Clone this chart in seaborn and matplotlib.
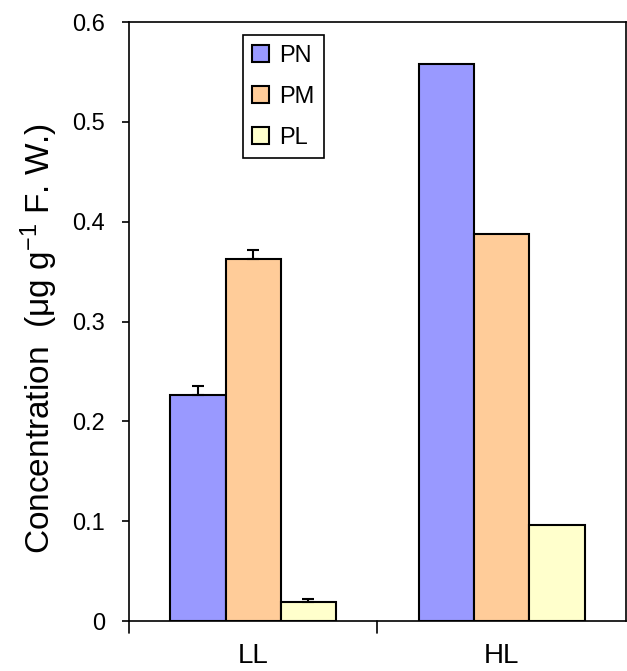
import pandas as pd
import matplotlib.pyplot as plt
import seaborn as sns

# values
groups = ['LL', 'HL']
pigments = ['PN', 'PM', 'PL']
pn_vals = [0.226, 0.558]
pm_vals = [0.363, 0.388]
pl_vals = [0.019, 0.096]
pn_err = [0.009, 0.0]
pm_err = [0.009, 0.0]
pl_err = [0.003, 0.0]
colors = ['#9999FF', '#FFCC99', '#FFFFCC']

sns.set_style('ticks')
plt.rcParams['font.family'] = ['Liberation Sans', 'DejaVu Sans']
plt.rcParams['mathtext.default'] = 'regular'
for k in ['text.color', 'axes.labelcolor', 'xtick.color', 'ytick.color', 'axes.edgecolor']:
    plt.rcParams[k] = 'black'

rows = []
for p, vals, errs in zip(pigments, [pn_vals, pm_vals, pl_vals], [pn_err, pm_err, pl_err]):
    for g, v, e in zip(groups, vals, errs):
        rows.append({'group': g, 'pigment': p, 'value': v, 'err': e})
df = pd.DataFrame(rows)

fig = plt.figure(figsize=(6.27, 6.71), dpi=100)
ax = fig.add_axes([0.2057, 0.0745, 0.7927, 0.8925])

sns.barplot(data=df, x='group', y='value', hue='pigment', order=groups,
            hue_order=pigments, palette=colors, saturation=1, width=0.667, gap=0,
            edgecolor='black', linewidth=1.5, errorbar=None, ax=ax)

# error bars on top of each bar (upper half only)
for cont, p in zip(ax.containers, pigments):
    sub = df[df['pigment'] == p].set_index('group').loc[groups]
    for bar, v, e in zip(cont, sub['value'], sub['err']):
        if e > 0:
            xc = bar.get_x() + bar.get_width() / 2
            ax.errorbar(xc, v, yerr=[[0], [e]], fmt='none', ecolor='black',
                        elinewidth=1.5, capsize=4.5, capthick=1.5)

ax.set_xlim(-0.5, 1.5)
ax.set_ylim(0, 0.6)
ax.set_yticks([0, 0.1, 0.2, 0.3, 0.4, 0.5, 0.6])
ax.set_yticklabels(['0', '0.1', '0.2', '0.3', '0.4', '0.5', '0.6'], fontsize=17)
ax.set_xticks([0, 1])
ax.set_xticklabels(groups, fontsize=20)
ax.tick_params(axis='x', length=0, pad=16)
ax.tick_params(axis='y', length=5, width=1.2, direction='out', pad=12)
# group separator ticks
for xt in [-0.5, 0.5]:
    ax.plot([xt, xt], [0, -0.012], color='black', lw=1.2, clip_on=False)
ax.set_xlabel('')
ax.set_ylabel('Concentration  (μg g$^{-1}$ F. W.)', fontsize=24)
ax.yaxis.set_label_coords(-0.138, 0.472)

for s in ax.spines.values():
    s.set_linewidth(1.2)
    s.set_color('black')

leg = ax.legend(loc='upper left', bbox_to_anchor=(0.229, 0.978), fontsize=17,
                frameon=True, fancybox=False, edgecolor='black', framealpha=1,
                handlelength=0.72, handleheight=0.72, handletextpad=0.4,
                labelspacing=0.8, borderpad=0.4, borderaxespad=0)
leg.get_frame().set_linewidth(1.2)
leg.set_title(None)

plt.savefig('out.png', dpi=100)
plt.close()
